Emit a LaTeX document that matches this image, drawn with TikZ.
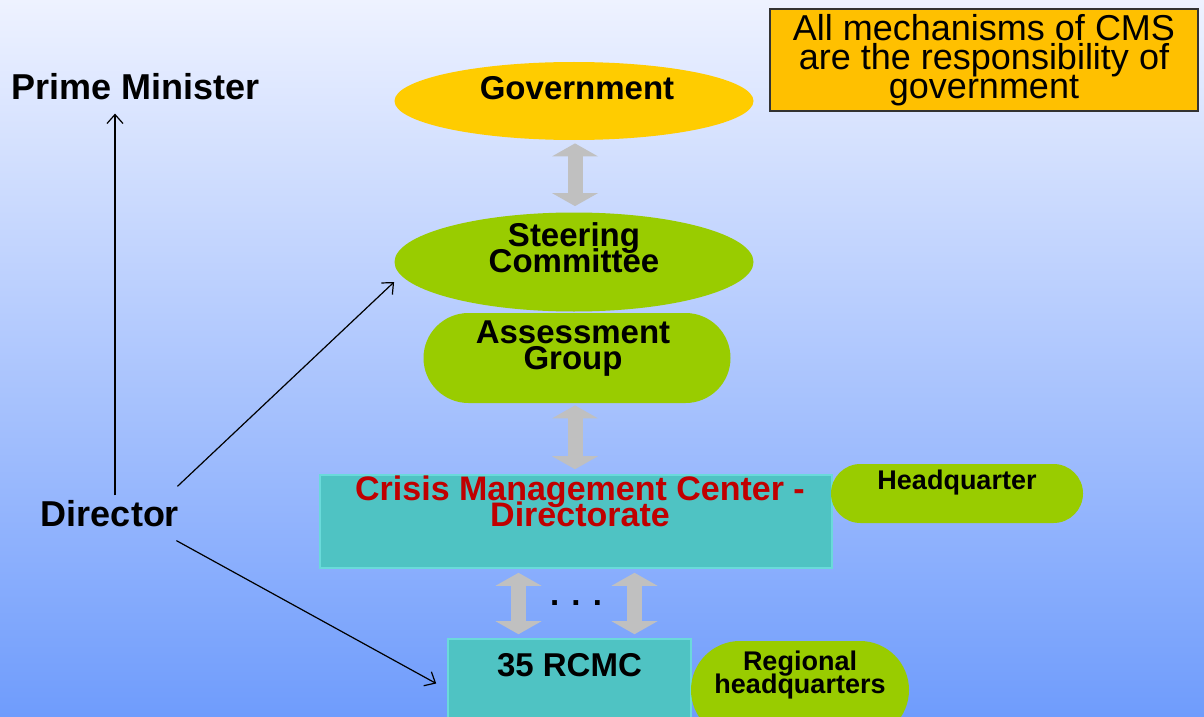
\documentclass[tikz,border=0pt]{standalone}
\usepackage{fontspec}
\setmainfont{Liberation Sans}
\usetikzlibrary{shapes}
\usetikzlibrary{arrows.meta}

\definecolor{skytop}{HTML}{EEF2FF}
\definecolor{skybottom}{HTML}{6F9CFC}
\definecolor{govyellow}{HTML}{FFCC00}
\definecolor{leafgreen}{HTML}{99CC00}
\definecolor{cmcteal}{HTML}{4FC3C3}
\definecolor{cmcedge}{HTML}{6ADADA}
\definecolor{cmcred}{HTML}{C00000}
\definecolor{arrowgray}{HTML}{C0C0C0}
\definecolor{noteorange}{HTML}{FFC000}

\newcommand{\tightlines}{\lineskiplimit -20pt\relax}
\newcommand{\boxfont}{\fontsize{16.5}{13}\selectfont\bfseries\tightlines}
\newcommand{\cmcfont}{\fontsize{17}{13}\selectfont\bfseries\tightlines}
\newcommand{\smallboxfont}{\fontsize{13.5}{11.5}\selectfont\bfseries\tightlines}
\newcommand{\notefont}{\fontsize{18}{14.5}\selectfont\tightlines}
\newcommand{\headfont}{\fontsize{18}{18}\selectfont\bfseries}

\tikzset{
  oval/.style = {ellipse, minimum width = 179.5pt, inner sep = 0pt},
  pill/.style = {rectangle, fill = leafgreen, rounded corners = #1, inner sep = 0pt},
  slab/.style = {rectangle, fill = cmcteal, draw = cmcedge, line width = 0.8pt, inner sep = 0pt},
  boxtext/.style = {font = \boxfont, align = center, inner sep = 0pt},
  smalltext/.style = {font = \smallboxfont, align = center, inner sep = 0pt},
  heading/.style = {font = \headfont, inner sep = 0pt},
  note/.style = {rectangle, fill = noteorange, draw = black!80, line width = 0.6pt,
    font = \notefont, align = center, inner sep = 0pt},
  twoway/.style = {draw = arrowgray, line width = 7.5pt,
    {Triangle[width = 23pt, length = 6.5pt, line width = 0pt]}-{Triangle[width = 23pt, length = 6.5pt, line width = 0pt]}},
  pointer/.style = {line width = 0.6pt, -{Straight Barb[length = 4.5pt, width = 8pt]}}
}

\begin{document}
\begin{tikzpicture}[x = 0.5pt, y = -0.5pt]
		% Background
		\useasboundingbox (0,0) rectangle (1204,717);
		\clip (0,0) rectangle (1204,717);
		\shade [top color = skytop, bottom color = skybottom] (0,0) rectangle (1204,717);
		% Note on the right
		\node [note, minimum width = 214pt, minimum height = 51pt] (cms) at (984,60) {All mechanisms of CMS\\ are the responsibility of\\ government};
		% Government
		\node [oval, fill = govyellow, minimum height = 39pt,
		       label = {[boxtext, xshift = 1.5pt, yshift = 6.5pt]center:Government}] (gov) at (574,101) {};
		% Steering committee
		\node [oval, fill = leafgreen, minimum height = 49.5pt,
		       label = {[boxtext, yshift = 7pt]center:Steering\\ Committee}] (steer) at (574,262) {};
		% Assessment group
		\node [pill = 22.5pt, minimum width = 153.5pt, minimum height = 45pt,
		       label = {[boxtext, xshift = -2pt, yshift = 4.5pt]center:Assessment\\ Group}] (assess) at (577,358) {};
		% Crisis management center
		\node [slab, minimum width = 256pt, minimum height = 46.5pt,
		       label = {[boxtext, text = cmcred, xshift = 2pt, yshift = 10pt, font = \cmcfont]center:Crisis Management Center -\\ Directorate}] (cmc) at (576,521.5) {};
		\node [pill = 14.75pt, minimum width = 126pt, minimum height = 29.5pt,
		       label = {[smalltext, yshift = 5.5pt]center:Headquarter}] (hq) at (957,493.5) {};
		% Regional centers
		\node [slab, minimum width = 121.5pt, minimum height = 50.5pt,
		       label = {[boxtext, yshift = 12pt]center:35 RCMC}] (rcmc) at (569.5,689.5) {};
		\node [pill = 24.5pt, minimum width = 109pt, minimum height = 49pt,
		       label = {[smalltext, yshift = 7.5pt]center:Regional\\ headquarters}] (rhq) at (800,690) {};
		\node [boxtext] (dots) at (576,603) {. . .};
		% Grey two-way arrows
		\draw [twoway] ([shift = {(1,3)}]gov.south) -- ([shift = {(1,-6)}]steer.north);
		\draw [twoway] ([shift = {(-2,2)}]assess.south) -- ([shift = {(-1,-5)}]cmc.north);
		\draw [twoway] ([shift = {(-57.5,4)}]cmc.south) -- ([shift = {(-51,-4)}]rcmc.north);
		\draw [twoway] ([shift = {(58.5,4)}]cmc.south) -- ([shift = {(65,-4)}]rcmc.north);
		% Director and prime minister
		\node [heading] (pm) at (136,87) {Prime Minister};
		\node [heading] (dir) at (110,514) {Director};
		\draw [pointer] ([shift = {(5,-5)}]dir.north) -- ([shift = {(-21,13)}]pm.south);
		\draw [pointer] ([shift = {(-2,-14)}]dir.north east) -- ([shift = {(0,20)}]steer.west);
		\draw [pointer] ([shift = {(-3,13)}]dir.south east) -- ([shift = {(-11,-6)}]rcmc.west);
\end{tikzpicture}
\end{document}
